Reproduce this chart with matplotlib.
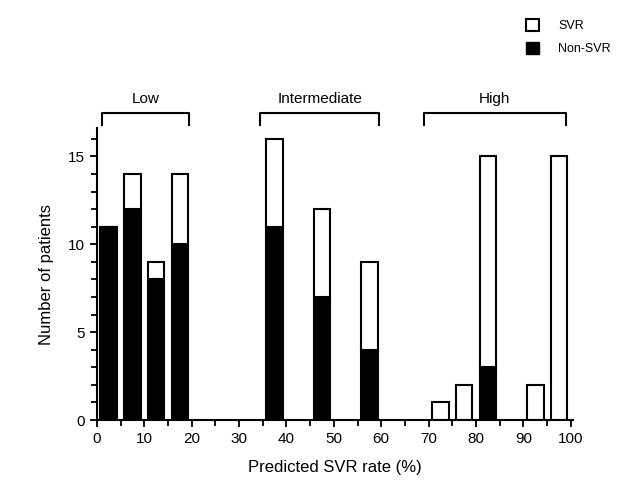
import matplotlib
matplotlib.use("Agg")
import matplotlib.pyplot as plt
from matplotlib.patches import Patch
from matplotlib.ticker import MultipleLocator

plt.rcParams["font.family"] = ["Liberation Sans", "DejaVu Sans"]

# bin centres of predicted SVR rate (%)
bins = [2.5, 7.5, 12.5, 17.5, 37.5, 47.5, 57.5, 72.5, 77.5, 82.5, 92.5, 97.5]
non_svr = [11, 12, 8, 10, 11, 7, 4, 0, 0, 3, 0, 0]
svr = [0, 2, 1, 4, 5, 5, 5, 1, 2, 12, 2, 15]

groups = ["Low", "Intermediate", "High"]
group_ranges = [(1, 19.5), (34.5, 59.5), (69, 99)]

fig = plt.figure(figsize=(6.25, 4.91), dpi=100)
ax = fig.add_axes([0.155, 0.1446, 0.762, 0.594])

ax.bar(bins, non_svr, width=3.5, color="black", edgecolor="black", linewidth=1.5)
ax.bar(bins, svr, width=3.5, bottom=non_svr, color="white", edgecolor="black", linewidth=1.5)

ax.set_xlim(0, 100.5)
ax.set_ylim(0, 16.6)
ax.xaxis.set_major_locator(MultipleLocator(10))
ax.xaxis.set_minor_locator(MultipleLocator(5))
ax.yaxis.set_major_locator(MultipleLocator(5))
ax.yaxis.set_minor_locator(MultipleLocator(1))
ax.tick_params(which="both", direction="out", width=1.3, labelsize=11)
ax.tick_params(which="major", length=5)
ax.tick_params(which="minor", length=4)
for s in ["top", "right"]:
    ax.spines[s].set_visible(False)
for s in ["left", "bottom"]:
    ax.spines[s].set_linewidth(1.5)

ax.set_xlabel("Predicted SVR rate (%)", fontsize=12, labelpad=10)
ax.set_ylabel("Number of patients", fontsize=12, labelpad=10)

# group brackets above the bars
for name, (a, b) in zip(groups, group_ranges):
    ax.plot([a, a, b, b], [16.8, 17.45, 17.45, 16.8], color="black", lw=1.5, clip_on=False)
    ax.text((a + b) / 2, 17.85, name, ha="center", va="bottom", fontsize=11)

handles = [Patch(facecolor="white", edgecolor="black", linewidth=1.5, label="SVR"),
           Patch(facecolor="black", edgecolor="black", label="Non-SVR")]
fig.legend(handles=handles, loc="upper right", bbox_to_anchor=(0.995, 0.985),
           frameon=False, fontsize=9, handlelength=1.1, handleheight=1.1,
           labelspacing=0.8, handletextpad=1.5)

fig.savefig("out.png", dpi=100)
